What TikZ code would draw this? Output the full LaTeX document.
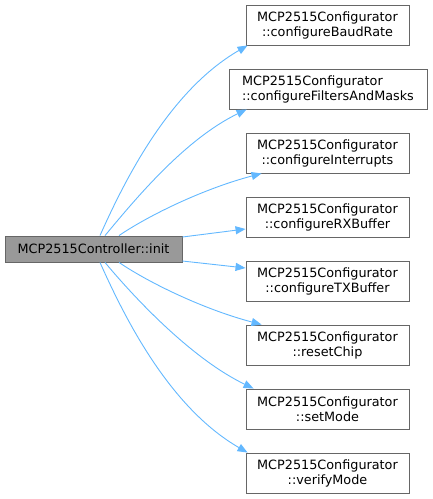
\documentclass[tikz,border=0pt]{standalone}
\usepackage{fontspec}
\setmainfont{DejaVu Sans}
\usetikzlibrary{arrows.meta}
\begin{document}
\begin{tikzpicture}[x=1pt,y=-1pt,
  box/.style={draw=black!60,line width=0.9pt,fill=white,rectangle,inner sep=0pt,
    minimum width=163pt,minimum height=40pt,align=center,
    font=\fontsize{12.8}{15}\selectfont},
  rootbox/.style={box,fill=black!40,minimum width=177pt,minimum height=26pt},
  edge/.style={draw={rgb,255:red,99;green,184;blue,255},line width=0.9pt,
    -{Triangle[length=10pt,width=8pt]}}]
\useasboundingbox (0,0) rectangle (432,499);
\node[rootbox] (init) at (93.5,249) {MCP2515Controller::init};
\node[box] (br) at (327.5,25) {MCP2515Configurator\\::configureBaudRate};
\node[box,minimum width=198pt,align=left] (fm) at (328,89) {MCP2515Configurator\\::configureFiltersAndMasks};
\node[box] (in) at (327.5,153) {MCP2515Configurator\\::configureInterrupts};
\node[box] (rx) at (327.5,217) {MCP2515Configurator\\::configureRXBuffer};
\node[box] (tx) at (327.5,281) {MCP2515Configurator\\::configureTXBuffer};
\node[box] (rc) at (327.5,345) {MCP2515Configurator\\::resetChip};
\node[box] (sm) at (327.5,409) {MCP2515Configurator\\::setMode};
\node[box] (vm) at (327.5,473) {MCP2515Configurator\\::verifyMode};
\draw[edge] ([xshift=6.5]init.north) .. controls +(25,-56) and +(-78,45) .. ([xshift=2]br.south west);
\draw[edge] ([xshift=11.5]init.north) .. controls +(30,-36) and +(-62,30) .. ([xshift=18]fm.south west);
\draw[edge] ([xshift=25.5]init.north) .. controls +(31,-21) and +(-57,15) .. ([xshift=16]in.south west);
\draw[edge] ([yshift=12]init.east) -- ([yshift=-12]rx.west);
\draw[edge] ([yshift=-12]init.east) -- ([yshift=13]tx.west);
\draw[edge] ([xshift=25.5]init.south) .. controls +(31,21) and +(-57,-15) .. ([xshift=16]rc.north west);
\draw[edge] ([xshift=11.5]init.south) .. controls +(30,36) and +(-62,-30) .. ([xshift=8]sm.north west);
\draw[edge] ([xshift=6.5]init.south) .. controls +(25,56) and +(-78,-45) .. ([xshift=2]vm.north west);
\end{tikzpicture}
\end{document}
